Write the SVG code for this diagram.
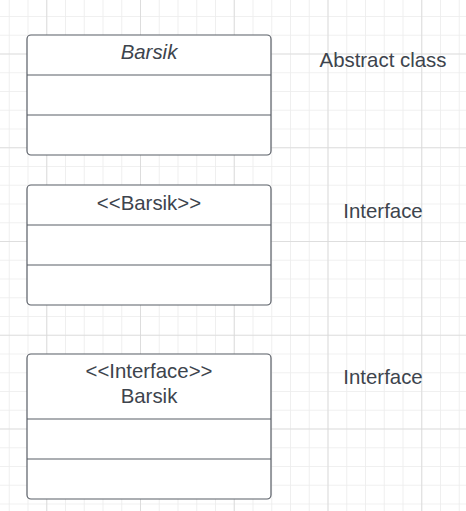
<svg xmlns="http://www.w3.org/2000/svg" width="466" height="511" viewBox="0 0 466 511">
  <defs>
    <pattern id="minor" x="8.75" y="16" width="18.75" height="18.75" patternUnits="userSpaceOnUse">
      <path d="M0 0H18.75M0 0V18.75" fill="none" stroke="#ececec" stroke-width="1.6"/>
    </pattern>
    <pattern id="major" x="46.25" y="53.5" width="93.75" height="93.75" patternUnits="userSpaceOnUse">
      <path d="M0 0H93.75M0 0V93.75" fill="none" stroke="#d9d9d9" stroke-width="1.6"/>
    </pattern>
  </defs>
  <style>
    .box { fill: #ffffff; stroke: #595e66; stroke-width: 1.2; }
    .div { stroke: #595e66; stroke-width: 1.2; }
    text { font-family: "Liberation Sans", Arial, sans-serif; font-size: 20.4px; fill: #3d444d; text-anchor: middle; }
    .it { font-style: italic; }
  </style>
  <rect width="466" height="511" fill="#ffffff"/>
  <rect width="466" height="511" fill="url(#minor)"/>
  <rect width="466" height="511" fill="url(#major)"/>

  <g id="abstract-class-node">
    <rect class="box" x="27" y="35" width="244" height="120" rx="4"/>
    <line class="div" x1="27" y1="75" x2="271" y2="75"/>
    <line class="div" x1="27" y1="115" x2="271" y2="115"/>
    <text class="it" x="149" y="59">Barsik</text>
  </g>
  <g id="interface-node-1">
    <rect class="box" x="27" y="185" width="244" height="120" rx="4"/>
    <line class="div" x1="27" y1="225" x2="271" y2="225"/>
    <line class="div" x1="27" y1="265" x2="271" y2="265"/>
    <text x="149" y="209.5">&lt;&lt;Barsik&gt;&gt;</text>
  </g>
  <g id="interface-node-2">
    <rect class="box" x="27" y="354" width="244" height="145" rx="4"/>
    <line class="div" x1="27" y1="419" x2="271" y2="419"/>
    <line class="div" x1="27" y1="459" x2="271" y2="459"/>
    <text x="149" y="377.5">&lt;&lt;Interface&gt;&gt;</text>
    <text x="149" y="403">Barsik</text>
  </g>
  <g id="label-abstract">
    <text x="383" y="67">Abstract class</text>
  </g>
  <g id="label-interface-1">
    <text x="383" y="217.5">Interface</text>
  </g>
  <g id="label-interface-2">
    <text x="383" y="384">Interface</text>
  </g>
  <g id="connectors"/>
</svg>
